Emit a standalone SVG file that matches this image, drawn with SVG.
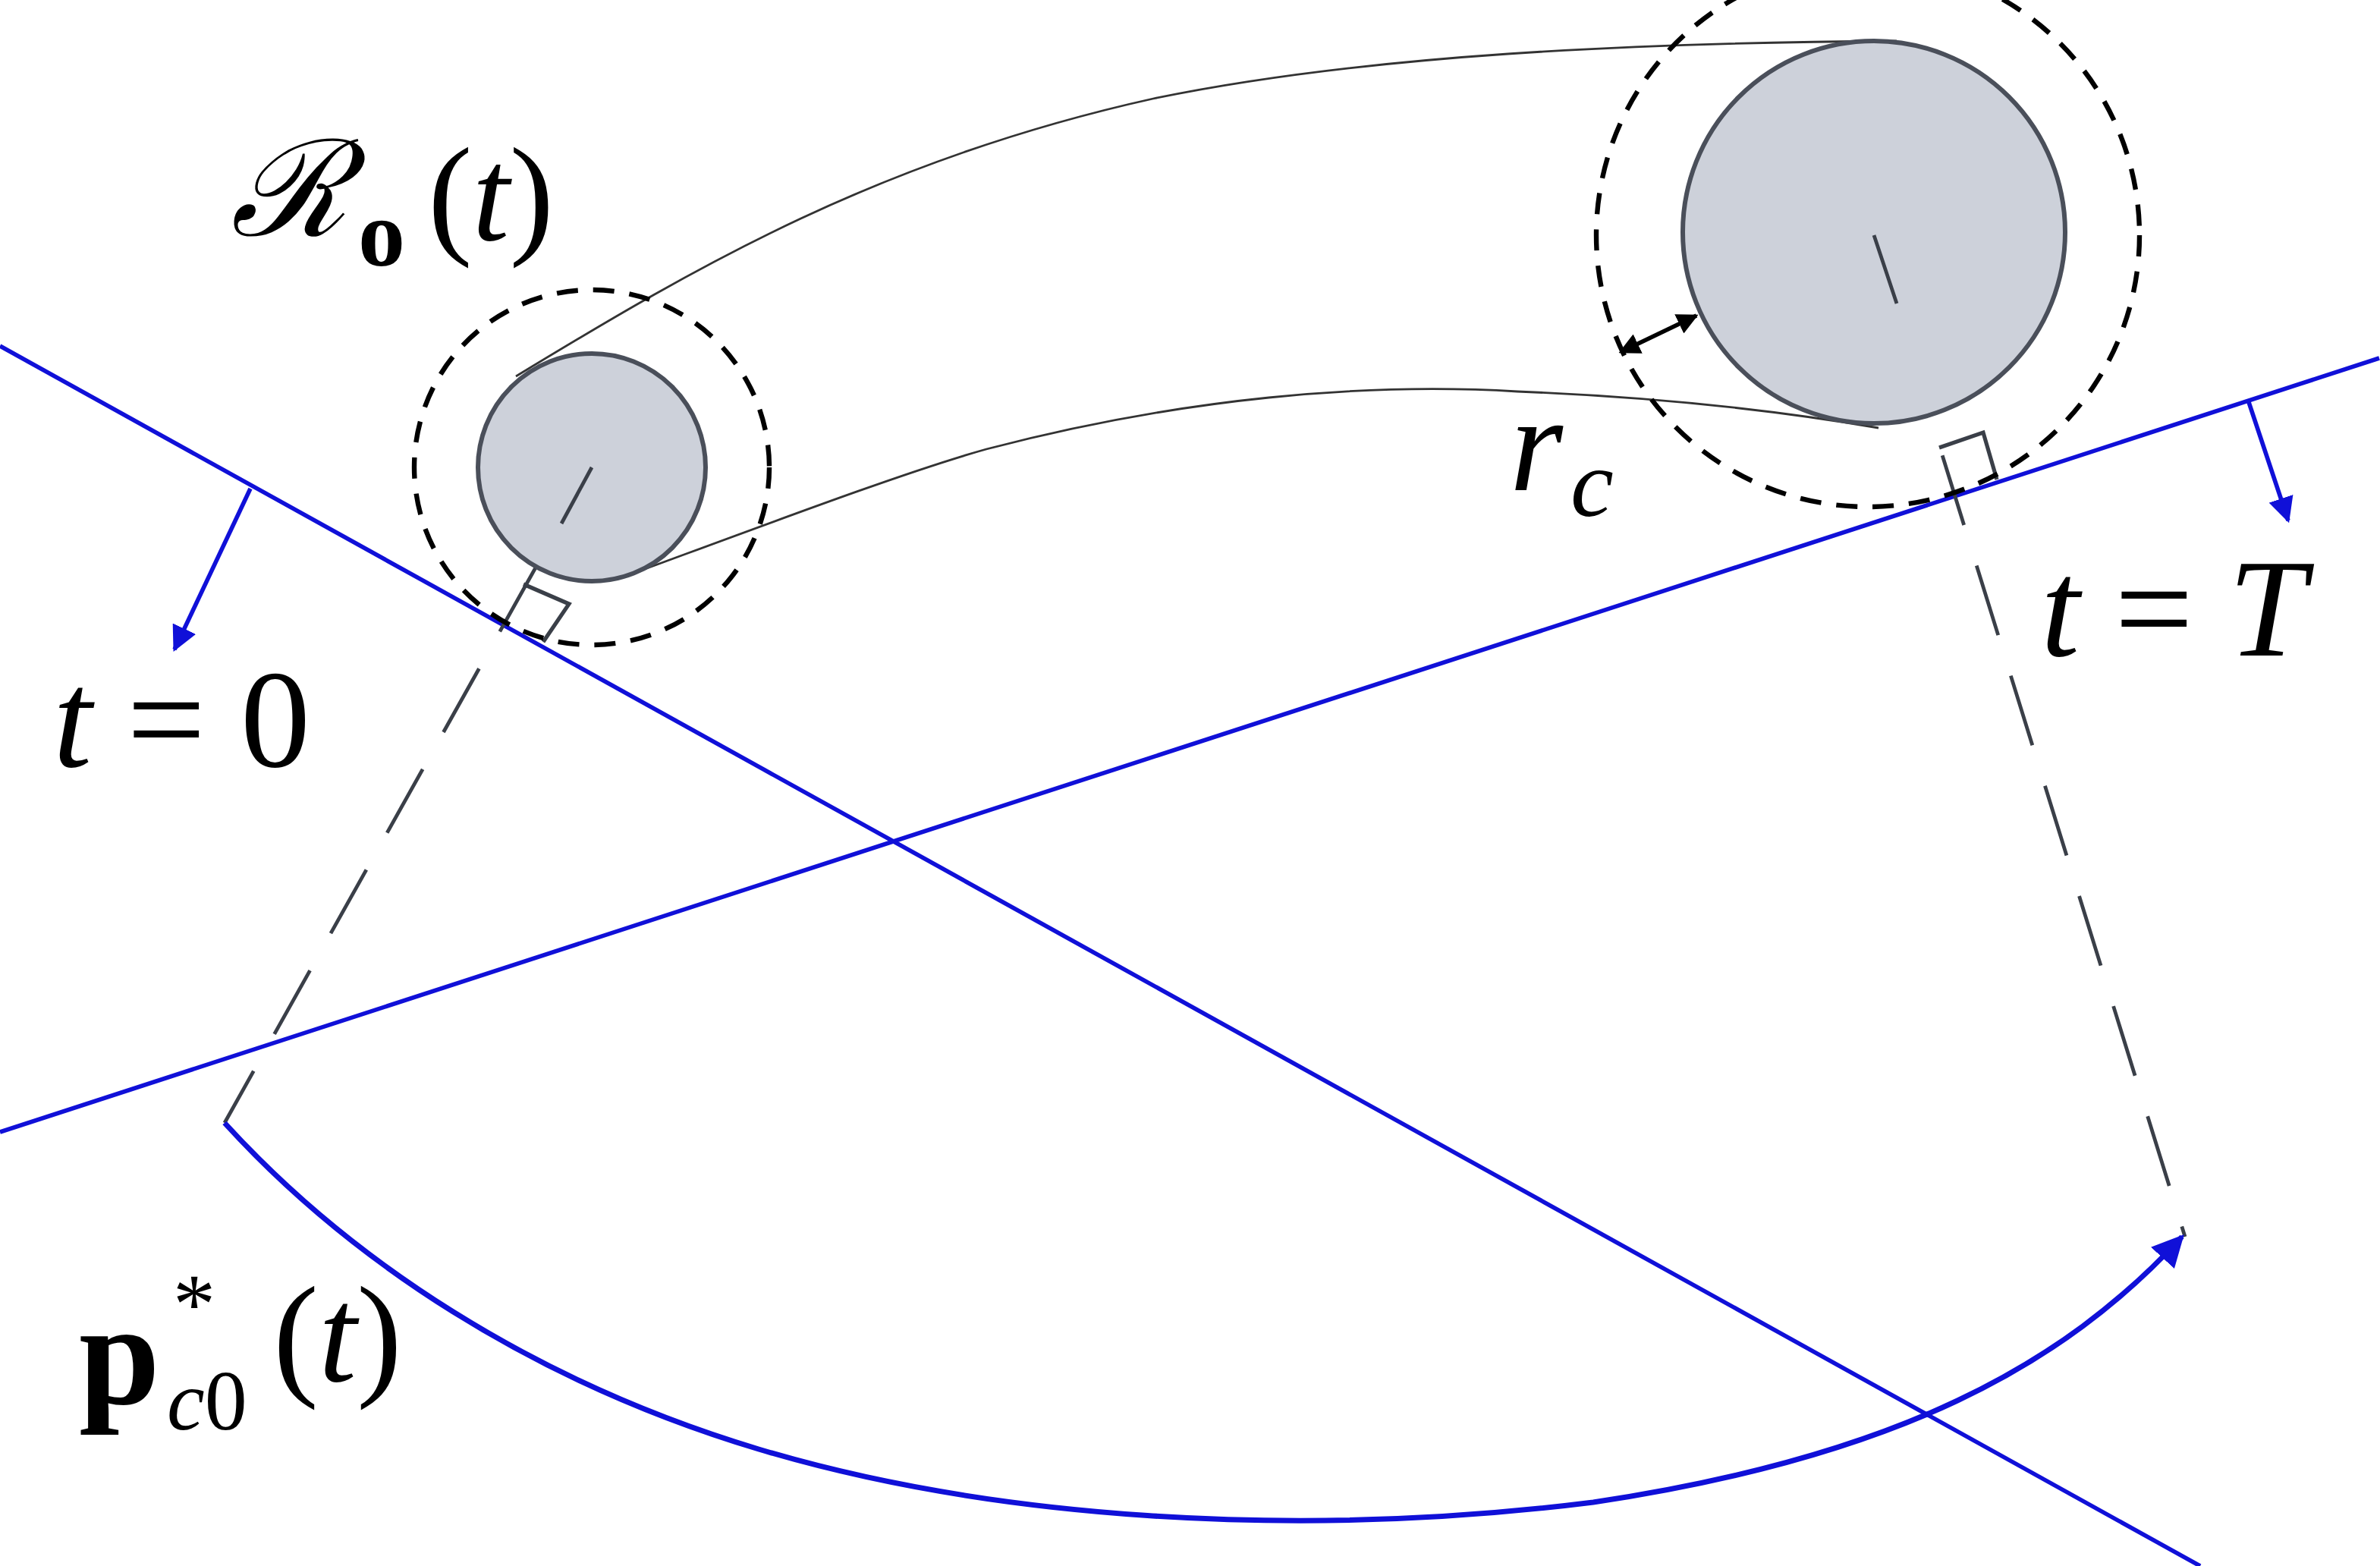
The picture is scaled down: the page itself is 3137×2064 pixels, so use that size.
<svg xmlns="http://www.w3.org/2000/svg" width="3137" height="2064" viewBox="0 0 3137 2064">
<defs>
<style>
.blue{stroke:#1010d8;fill:none;stroke-width:2.8}
.thin{stroke:#333;fill:none;stroke-width:1.4}
.dash{stroke:#000;fill:none;stroke-width:3.2;stroke-dasharray:14 10}
.ldash{stroke:#3a3f48;fill:none;stroke-width:2.4;stroke-dasharray:48 28}
.obs{fill:#cdd1da;stroke:#4a4f5a;stroke-width:3}
.sq{stroke:#3a3f48;fill:none;stroke-width:2.6}
text{font-family:"Liberation Serif","Times New Roman",serif;fill:#000}
.it{font-style:italic}
</style>
<marker id="ab" viewBox="0 0 10 10" refX="9" refY="5" markerWidth="6" markerHeight="6" orient="auto-start-reverse"><path d="M0,0L10,5L0,10z" fill="#1010d8"/></marker>
<marker id="ak" viewBox="0 0 10 10" refX="9" refY="5" markerWidth="5" markerHeight="5" orient="auto-start-reverse"><path d="M0,0L10,5L0,10z" fill="#000"/></marker>
</defs>
<rect width="3137" height="2064" fill="#fff"/>
<g transform="scale(2)">
<g id="connectors">
<line class="blue" x1="0" y1="228" x2="1450" y2="1032"/>
<line class="blue" x1="0" y1="746" x2="1568" y2="236"/>
<line class="blue" x1="165" y1="322" x2="115" y2="428" stroke-width="3.2" marker-end="url(#ab)"/>
<line class="blue" x1="1482" y1="265" x2="1508" y2="343" stroke-width="3.2" marker-end="url(#ab)"/>
<path class="thin" d="M340,248 C460,175 580,105 760,65 C900,36 1080,28 1250,27"/>
<path class="thin" d="M425,375 C520,340 600,310 650,296 C780,262 900,252 1000,258 C1100,262 1180,272 1238,282"/>
<line class="ldash" x1="390" y1="308" x2="148" y2="740"/>
<line class="ldash" x1="1235" y1="155" x2="1440" y2="815"/>
<path class="sq" d="M345,385 L375,398 L358,423"/>
<path class="sq" d="M1278,295 L1307,285 L1316,316"/>
<path d="M148,740 C230,830 350,910 500,955 C650,1000 850,1015 1050,990 C1250,960 1360,900 1438,815" fill="none" stroke="#1010d8" stroke-width="3.5" marker-end="url(#ab)"/>
<line x1="1068" y1="232" x2="1118" y2="208" stroke="#000" stroke-width="2.8" marker-start="url(#ak)" marker-end="url(#ak)"/>
</g>
<g id="obstacle1">
<circle class="dash" cx="390" cy="308" r="117"/>
<circle class="obs" cx="390" cy="308" r="75"/>
<line class="ldash" x1="390" y1="308" x2="370" y2="345"/>
</g>
<g id="obstacle2">
<circle class="dash" cx="1231" cy="155" r="179"/>
<circle class="obs" cx="1235" cy="153" r="126"/>
<line class="ldash" x1="1235" y1="155" x2="1250" y2="200"/>
</g>
<g id="labels">
<text class="it" x="152" y="155" font-size="88">ℛ</text>
<text x="236" y="175" font-size="62" font-weight="bold">o</text>
<text x="282" y="158" font-size="88">(<tspan class="it">t</tspan>)</text>
<text x="35" y="505" font-size="92"><tspan class="it">t</tspan> = 0</text>
<text x="1345" y="432" font-size="92"><tspan class="it">t</tspan> = <tspan class="it">T</tspan></text>
<text class="it" x="995" y="323" font-size="90">r</text>
<text class="it" x="1035" y="340" font-size="64">c</text>
<text x="52" y="925" font-size="96" font-weight="bold">p</text>
<text x="114" y="878" font-size="56">*</text>
<text x="110" y="942" font-size="56"><tspan class="it">c</tspan>0</text>
<text x="180" y="910" font-size="90">(<tspan class="it">t</tspan>)</text>
</g>
</g>
</svg>
